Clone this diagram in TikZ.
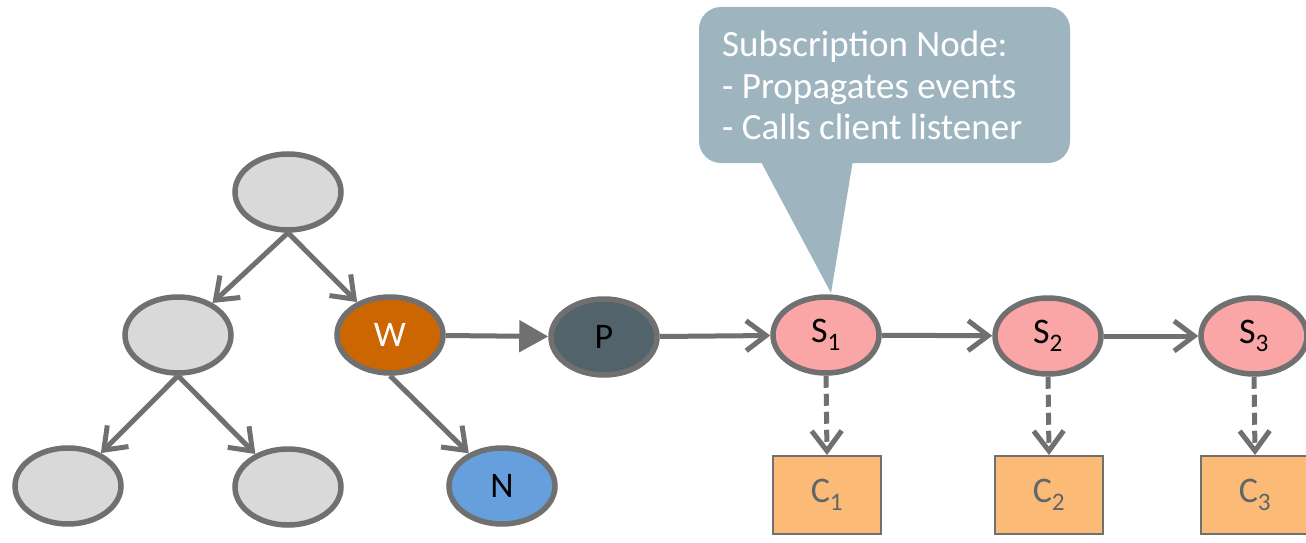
\documentclass[tikz,border=0pt]{standalone}
\usepackage{fontspec}
\setmainfont{Carlito}
\usetikzlibrary{arrows.meta,shapes.geometric}
\definecolor{edgegray}{RGB}{112,112,112}
\definecolor{treefill}{RGB}{217,217,217}
\definecolor{wfill}{RGB}{204,102,0}
\definecolor{pfill}{RGB}{83,99,107}
\definecolor{nfill}{RGB}{101,160,220}
\definecolor{sfill}{RGB}{250,166,166}
\definecolor{cfill}{RGB}{251,186,118}
\definecolor{ctext}{RGB}{95,102,108}
\definecolor{callfill}{RGB}{158,180,191}
\tikzset{
  vert/.style={ellipse, draw=edgegray, line width=5.5pt, minimum width=106pt, minimum height=76pt, inner sep=0pt, font=\fontsize{36}{38}\selectfont},
  client/.style={rectangle, draw=edgegray, line width=2pt, fill=cfill, minimum width=108pt, minimum height=78pt, inner sep=0pt, text=ctext, font=\fontsize{36}{38}\selectfont},
  chev/.style={draw=edgegray, line width=5pt, -{Straight Barb[length=20pt,width=30pt]}},
  tri/.style={draw=edgegray, line width=5pt, -{Triangle[length=29pt,width=31pt]}},
  dashedge/.style={chev, dash pattern=on 12pt off 6pt},
}
\begin{document}
\begin{tikzpicture}[x=1pt,y=-1pt]
\useasboundingbox (0,0) rectangle (1306,543);
% callout
\fill[callfill, rounded corners=22pt] (699,7) rectangle (1070,163);
\fill[callfill] (760,160) -- (853,160) -- (831,293) -- cycle;
\node[anchor=north west, align=left, text=white, inner sep=0pt, font=\fontsize{37}{41.5}\selectfont] (note) at (722,31) {Subscription Node:\\- Propagates events\\- Calls client listener};
% tree
\node[vert, fill=treefill] (root) at (288,192) {};
\node[vert, fill=treefill] (ml) at (178,335) {};
\node[vert, fill=wfill, text=white] (w) at (390,335) {W};
\node[vert, fill=treefill] (bl) at (68,486) {};
\node[vert, fill=treefill] (bm) at (288,487) {};
\node[vert, fill=nfill] (n) at (502,486) {N};
\node[vert, fill=pfill] (p) at (604,337) {P};
\node[vert, fill=sfill] (s1) at (826,335) {S\textsubscript{1}};
\node[vert, fill=sfill] (s2) at (1048,336) {S\textsubscript{2}};
\node[vert, fill=sfill] (s3) at (1254,336) {S\textsubscript{3}};
\node[client] (c1) at (827,495) {C\textsubscript{1}};
\node[client] (c2) at (1049,495) {C\textsubscript{2}};
\node[client] (c3) at (1255,495) {C\textsubscript{3}};
% edges
\draw[chev] (root.south) -- (ml);
\draw[chev] (root.south) -- (w);
\draw[chev] (ml.south) -- (bl);
\draw[chev] (ml.south) -- (bm);
\draw[chev] (w.south) -- (n);
\draw[tri] (w) -- (p);
\draw[chev] (p) -- (s1);
\draw[chev] (s1) -- (s2);
\draw[chev] (s2) -- (s3);
\draw[dashedge] (s1.south) -- (c1.north);
\draw[dashedge] (s2.south) -- (c2.north);
\draw[dashedge] (s3.south) -- (c3.north);
\end{tikzpicture}
\end{document}
